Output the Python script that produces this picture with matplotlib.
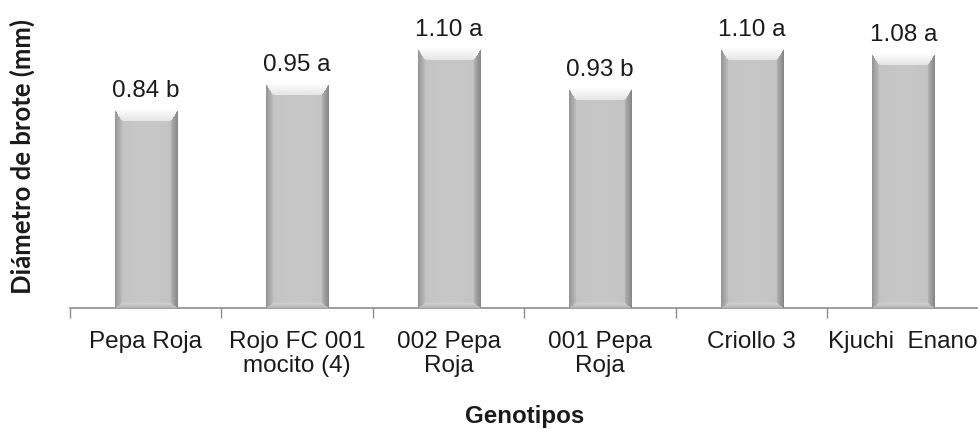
import numpy as np
import matplotlib
matplotlib.use("Agg")
import matplotlib.pyplot as plt
from matplotlib.colors import to_rgb

genotipos = ["Pepa Roja", "Rojo FC 001\nmocito (4)", "002 Pepa\nRoja",
             "001 Pepa\nRoja", "Criollo 3", "Kjuchi  Enano"]
diametro = [0.84, 0.95, 1.10, 0.93, 1.10, 1.08]
letras = ["b", "a", "a", "b", "a", "a"]

DPI = 100
fig = plt.figure(figsize=(9.79, 4.29), dpi=DPI)
ax = fig.add_axes([0.0715, 0.282, 0.9285, 0.712])

n = len(genotipos)
x = np.arange(n)
face = "#c3c3c3"
bars = ax.bar(x, diametro, width=0.41, color=face, edgecolor="none", zorder=2)
ax.set_xlim(-0.5, n - 0.5)
ax.set_ylim(0, 1.3)


def bevel_image(w_px, h_px):
    """RGB array of a bevelled (button-like) bar face."""
    w_px, h_px = max(int(round(w_px)), 4), max(int(round(h_px)), 4)
    j = np.arange(w_px)[None, :] + 0.5
    i = np.arange(h_px)[:, None] + 0.5
    shape = (h_px, w_px)
    d_top = np.broadcast_to(i / 11.0, shape)
    d_left = np.broadcast_to(j / 7.0, shape)
    d_right = np.broadcast_to((w_px - j) / 7.0, shape)
    d_bot = np.broadcast_to((h_px - i) / 5.0, shape)
    stack = np.stack([d_top, d_left, d_right, d_bot])
    which = np.argmin(stack, axis=0)
    dmin = np.min(stack, axis=0)

    base = np.array(to_rgb(face))
    img = np.empty((h_px, w_px, 3))
    img[:] = base
    # gentle horizontal shading on the flat face
    u = j / w_px
    shade = 0.015 * np.cos((u - 0.5) * np.pi)
    img += np.broadcast_to(shade, shape)[..., None]

    t = np.clip(dmin, 0, 1)[..., None]
    facets = [
        (np.array([0.99, 0.99, 0.99]), np.array([0.90, 0.90, 0.90])),  # top
        (np.array([0.58, 0.58, 0.58]), np.array([0.74, 0.74, 0.74])),  # left
        (np.array([0.52, 0.52, 0.52]), np.array([0.70, 0.70, 0.70])),  # right
        (np.array([0.70, 0.70, 0.70]), np.array([0.83, 0.83, 0.83])),  # bottom
    ]
    inside = dmin < 1
    for k, (e, m) in enumerate(facets):
        mask = inside & (which == k)
        col = e * (1 - t) + m * t
        img[mask] = col[mask]
    return np.clip(img, 0, 1)


fig.canvas.draw()
px_per_x = ax.transData.transform((1, 0))[0] - ax.transData.transform((0, 0))[0]
px_per_y = ax.transData.transform((0, 1))[1] - ax.transData.transform((0, 0))[1]
for rect in bars:
    bx, bw, bh = rect.get_x(), rect.get_width(), rect.get_height()
    img = bevel_image(bw * px_per_x, bh * px_per_y)
    ax.imshow(img, extent=(bx, bx + bw, 0, bh), aspect="auto",
              interpolation="bilinear", zorder=3)
ax.set_xlim(-0.5, n - 0.5)
ax.set_ylim(0, 1.3)

txt = "#1a1a1a"
for xi, v, l in zip(x, diametro, letras):
    ax.annotate(f"{v:.2f} {l}", (xi, v), xytext=(0, 6), textcoords="offset points",
                ha="center", va="bottom", fontsize=17.5, color=txt,
                family="Liberation Sans", zorder=4)

# boundary ticks, labels centred under the bars
ax.set_xticks(np.arange(n + 1) - 0.5)
ax.set_xticklabels([])
ax.tick_params(axis="x", which="major", length=7, width=1, color="#8c8c8c", direction="out")
ax.set_xticks(x, minor=True)
ax.set_xticklabels(genotipos, minor=True, fontsize=17.5, color=txt,
                   family="Liberation Sans", linespacing=1.12)
ax.tick_params(axis="x", which="minor", length=0, pad=16.5)
ax.set_yticks([])
for s in ["top", "right", "left"]:
    ax.spines[s].set_visible(False)
ax.spines["bottom"].set_color("#8c8c8c")
ax.spines["bottom"].set_linewidth(1.2)

fig.text(525 / 979, 1 - 423 / 429, "Genotipos", ha="center", va="baseline",
         fontsize=17.4, fontweight="bold", family="Liberation Sans", color=txt)
fig.text(22 / 979, 1 - 156.5 / 429, "Diámetro de brote (mm)", ha="center", va="center",
         rotation=90, fontsize=18.5, fontweight="bold", family="Lato", color=txt)

fig.savefig("out.png", dpi=DPI)
